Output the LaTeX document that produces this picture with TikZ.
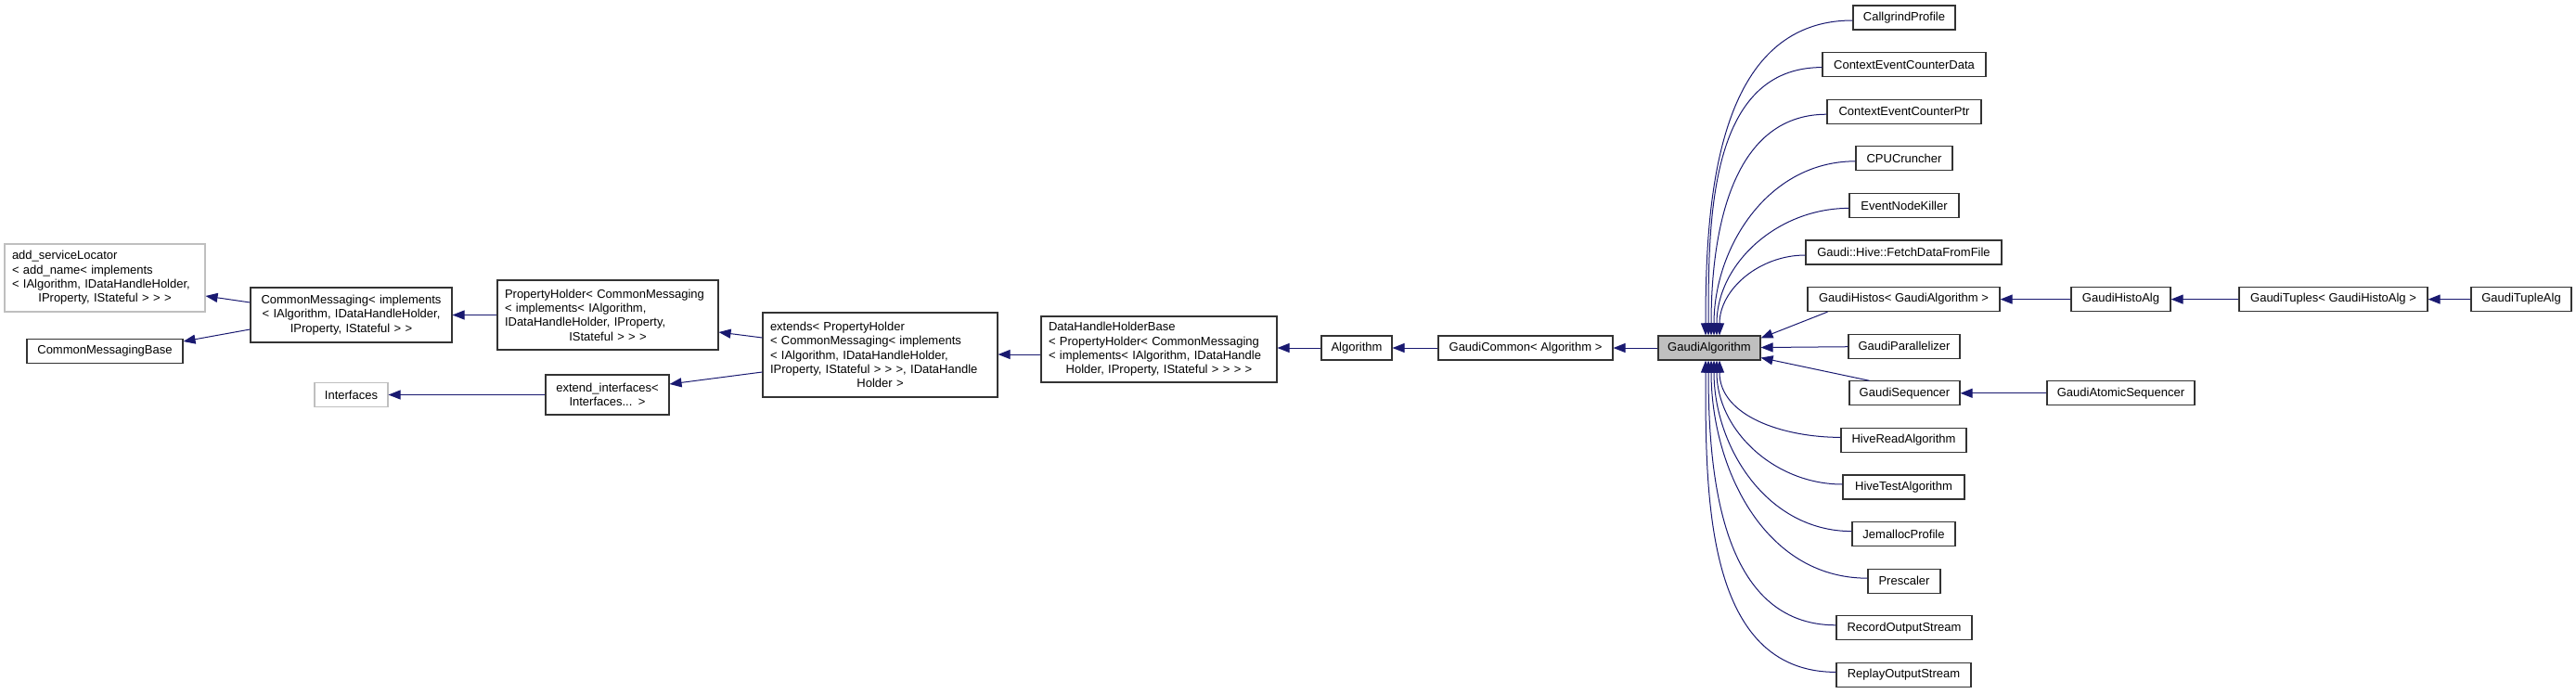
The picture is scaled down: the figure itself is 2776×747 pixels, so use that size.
\documentclass[tikz,border=0pt]{standalone}
\usepackage{fontspec}
\setmainfont{Liberation Sans}
\usetikzlibrary{positioning,calc,arrows.meta}

\definecolor{edgeblue}{HTML}{191970}
\definecolor{hidegray}{HTML}{BFBFBF}

\newcommand{\midline}[1]{\makebox[\hsize][c]{#1}}

\tikzset{
  box/.style={draw=black!80, line width=1.1pt, inner xsep=8pt, inner ysep=2pt,
    minimum height=26pt, font=\fontsize{13}{15.4}\selectfont},
  ghost/.style={box, draw=hidegray},
  inherit/.style={draw=edgeblue, line width=1pt, {Triangle[length=13pt,width=10pt]}-},
}

\begin{document}
\begin{tikzpicture}[x=1pt,y=-1pt]
  \useasboundingbox (0,0) rectangle (2776,747);

  % base classes on the left
  \node[ghost, minimum width=216, minimum height=73, text width=200, align=left] (asl) at (113,299.5)
    {add\_serviceLocator\\{}< add\_name< implements\\{}< IAlgorithm, IDataHandleHolder,\\\midline{IProperty, IStateful > > >}};
  \node[box, minimum width=168] (cmb) at (113,378.5) {CommonMessagingBase};
  \node[box, minimum width=217, minimum height=59, text width=201, align=center] (cm) at (378.5,339.5)
    {CommonMessaging< implements\\{}< IAlgorithm, IDataHandleHolder,\\IProperty, IStateful > >};
  \node[ghost, minimum width=79] (itf) at (378.5,425.5) {Interfaces};
  \node[box, minimum width=238, minimum height=75, text width=222, align=left] (ph) at (655,339.5)
    {PropertyHolder< CommonMessaging\\{}< implements< IAlgorithm,\\ IDataHandleHolder, IProperty,\\\midline{IStateful > > >}};
  \node[box, minimum width=133, minimum height=43, text width=117, align=center] (eif) at (654.5,425.5)
    {extend\_interfaces<\\Interfaces... >};
  \node[box, minimum width=253, minimum height=91, text width=237, align=left] (ext) at (948.5,382.5)
    {extends< PropertyHolder\\{}< CommonMessaging< implements\\{}< IAlgorithm, IDataHandleHolder,\\ IProperty, IStateful > > >, IDataHandle\\\midline{Holder >}};
  \node[box, minimum width=254, minimum height=71, text width=238, align=left] (dhhb) at (1249,376.5)
    {DataHandleHolderBase\\{}< PropertyHolder< CommonMessaging\\{}< implements< IAlgorithm, IDataHandle\\\midline{Holder, IProperty, IStateful > > > >}};
  \node[box, minimum width=76] (alg) at (1462,375) {Algorithm};
  \node[box, minimum width=188] (gc) at (1644,375) {GaudiCommon< Algorithm >};
  \node[box, minimum width=110, fill=hidegray] (ga) at (1842,375) {GaudiAlgorithm};

  % derived classes
  \foreach \n/\a/\b/\r/\t in {
      cgp/1997/2107/0/{CallgrindProfile},
      cecd/1964/2140/1/{ContextEventCounterData},
      cecp/1969/2135/2/{ContextEventCounterPtr},
      cpu/2000/2104/3/{CPUCruncher},
      enk/1993/2111/4/{EventNodeKiller},
      fdf/1946/2157/5/{Gaudi::Hive::FetchDataFromFile},
      gh/1948/2155/6/{GaudiHistos< GaudiAlgorithm >},
      gp/1992/2112/7/{GaudiParallelizer},
      gs/1993/2112/8/{GaudiSequencer},
      hra/1984/2119/9/{HiveReadAlgorithm},
      hta/1986/2117/10/{HiveTestAlgorithm},
      jem/1996/2107/11/{JemallocProfile},
      pre/2013/2091/12/{Prescaler},
      ros/1979/2125/13/{RecordOutputStream},
      rps/1979/2124/14/{ReplayOutputStream},
      gha/2232/2339/6/{GaudiHistoAlg},
      gt/2413/2616/6/{GaudiTuples< GaudiHistoAlg >},
      gta/2663/2771/6/{GaudiTupleAlg},
      gas/2206/2365/8/{GaudiAtomicSequencer}}
    \node[box, minimum width=\b-\a] (\n) at ({(\a+\b)/2},{19+50.6*\r}) {\t};

  % inheritance edges
  \draw[inherit] (asl.east |- 0,319) -- (cm.west |- 0,326);
  \draw[inherit] (cmb.east |- 0,368) -- (cm.west |- 0,355);
  \draw[inherit] (cm) -- (ph);
  \draw[inherit] (itf) -- (eif);
  \draw[inherit] (ph.east |- 0,358) -- (ext.west |- 0,364);
  \draw[inherit] (eif.east |- 0,414) -- (ext.west |- 0,401);
  \draw[inherit] (ext.east |- 0,382) -- (dhhb.west |- 0,382);
  \draw[inherit] (dhhb.east |- 0,375) -- (alg);
  \draw[inherit] (alg) -- (gc);
  \draw[inherit] (gc) -- (ga);
  \foreach \n/\r in {cgp/0,cecd/1,cecp/2,cpu/3,enk/4,fdf/5}
    \draw[inherit] ([xshift={-4+3*\r}]ga.north) to[out=90,in=180] ([yshift=-3pt]\n.west);
  \foreach \n/\r in {hra/0,hta/1,jem/2,pre/3,ros/4,rps/5}
    \draw[inherit] ([xshift={11-3*\r}]ga.south) to[out=-90,in=180] ([yshift=3pt]\n.west);
  \draw[inherit] ([yshift=-3pt]ga.north east) -- ([xshift=22pt]gh.south west);
  \draw[inherit] (ga) -- (gp);
  \draw[inherit] ([yshift=3pt]ga.south east) -- ([xshift=22pt]gs.north west);
  \draw[inherit] (gh) -- (gha);
  \draw[inherit] (gha) -- (gt);
  \draw[inherit] (gt) -- (gta);
  \draw[inherit] (gs) -- (gas);
\end{tikzpicture}
\end{document}
